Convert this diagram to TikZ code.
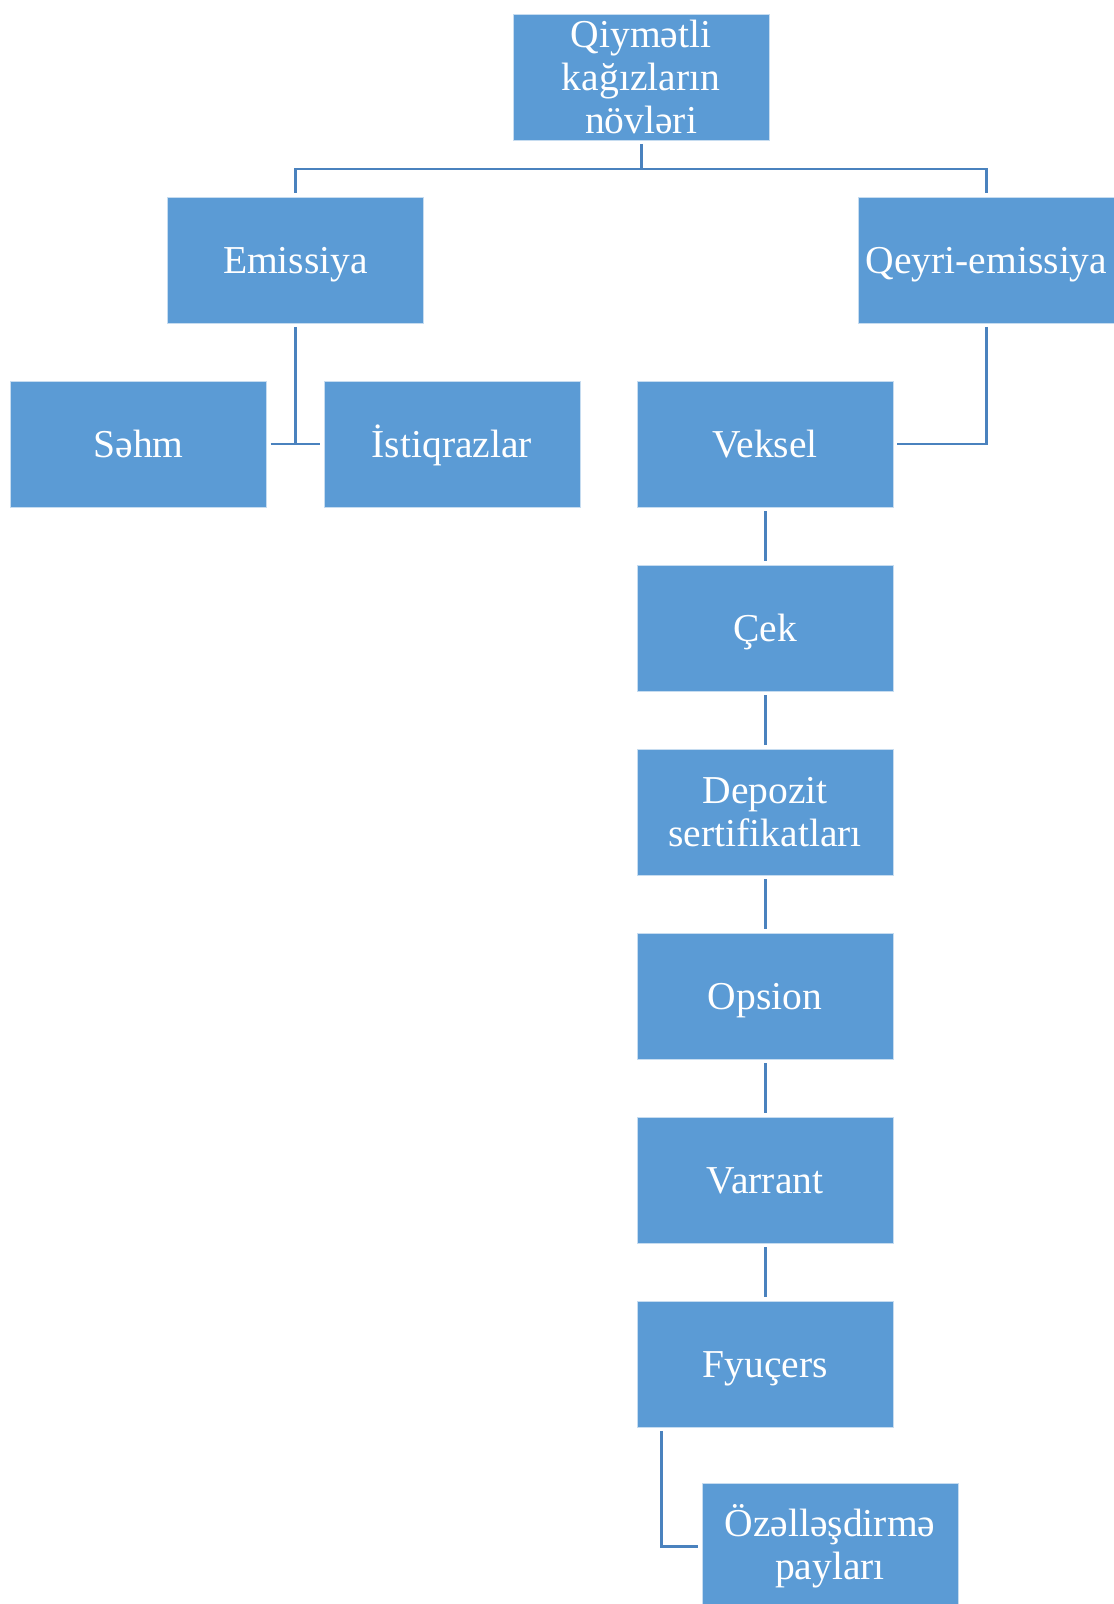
\documentclass[tikz,border=0pt]{standalone}
\usepackage{fontspec}
\setmainfont{Liberation Serif}

\definecolor{boxblue}{HTML}{5B9BD5}
\definecolor{lineblue}{HTML}{4A82BE}

\tikzset{
    kind/.style={rectangle, fill=boxblue, draw=white!65!boxblue,
        line width=0.4pt, minimum width=5.12cm, minimum height=2.52cm,
        inner sep=0pt, outer sep=0.08cm, align=center, text=white,
        font=\fontsize{22.5}{24.5}\selectfont},
    oneline/.style={kind, text height=20pt, text depth=5pt},
    conn/.style={draw=lineblue, line width=1.7pt}
}

\begin{document}
\begin{tikzpicture}
        \pgfmathsetmacro\colw{6.264};
        \pgfmathsetmacro\rowh{3.68};
        \pgfmathsetmacro\top{-1.52};

        \useasboundingbox (0, 0) rectangle (22.26, -32.08);

        % root
        \node[kind] (root) at (12.82, \top - 0.02)
            {Qiymətli\\kağızların\\növləri};

        % Emissiya and Qeyri-emissiya
        \node[oneline] (emis) at (12.82 - 6.91, \top - \rowh) {Emissiya};
        \node[oneline] (qeyri) at (12.82 + 6.91, \top - \rowh)
            {Qeyri-emissiya};

        % third row
        \node[oneline] (sehm) at (2.774, \top - 2 * \rowh) {Səhm};
        \node[oneline] (istiq) at (2.774 + \colw, \top - 2 * \rowh)
            {İstiqrazlar};
        \node[oneline] (veksel) at (2.774 + 2 * \colw, \top - 2 * \rowh)
            {Veksel};

        % Qeyri-emissiya column
        \node[oneline] (cek) at (2.774 + 2 * \colw, \top - 3 * \rowh) {Çek};
        \node[kind] (depozit) at (2.774 + 2 * \colw, \top - 4 * \rowh)
            {Depozit\\sertifikatları};
        \node[oneline] (opsion) at (2.774 + 2 * \colw, \top - 5 * \rowh)
            {Opsion};
        \node[oneline] (varrant) at (2.774 + 2 * \colw, \top - 6 * \rowh)
            {Varrant};
        \node[oneline] (fyucers) at (2.774 + 2 * \colw, \top - 7 * \rowh)
            {Fyuçers};
        \node[kind] (ozel) at (16.6, \top - 8 * \rowh + 0.04)
            {Özəlləşdirmə\\payları};

        % root links
        \path (root.south) ++(0, -0.5) coordinate (rootjoin);
        \draw[conn] (root.south) -- (rootjoin);
        \draw[conn] (emis.north) |- (rootjoin) -| (qeyri.north);

        % Emissiya links
        \draw[conn] (emis.south) -- (emis.south |- sehm.east);
        \draw[conn] (sehm.east) -- (istiq.west);

        % Qeyri-emissiya links
        \draw[conn] (qeyri.south) |- (veksel.east);
        \draw[conn] (veksel.south) -- (cek.north);
        \draw[conn] (cek.south) -- (depozit.north);
        \draw[conn] (depozit.south) -- (opsion.north);
        \draw[conn] (opsion.south) -- (varrant.north);
        \draw[conn] (varrant.south) -- (fyucers.north);
        \path (fyucers.south west) ++(0.56, 0) coordinate (fyjoin);
        \draw[conn] (fyjoin) |- (ozel.west);
    \end{tikzpicture}
\end{document}
